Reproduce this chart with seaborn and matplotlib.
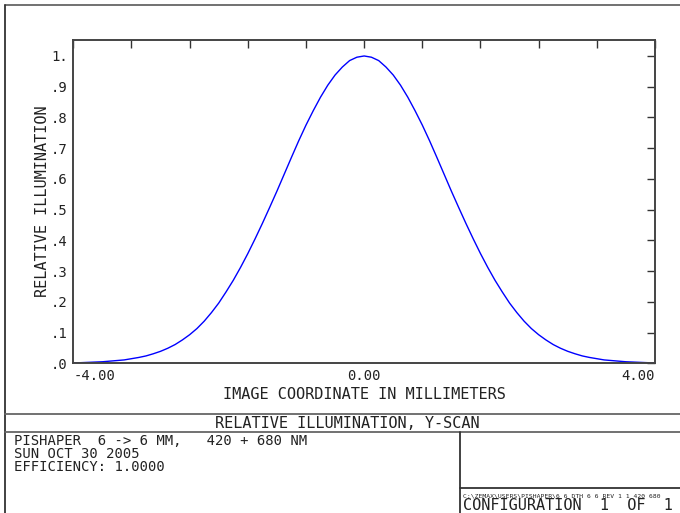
import numpy as np
import pandas as pd
import matplotlib
matplotlib.use('Agg')
import matplotlib.pyplot as plt
import seaborn as sns
from matplotlib.lines import Line2D

# relative illumination, 0.1 mm steps (curve is symmetric)
half_x = [0.0, 0.1, 0.2, 0.3, 0.4, 0.5, 0.6, 0.7, 0.8, 0.9, 1.0,
          1.1, 1.2, 1.3, 1.4, 1.5, 1.6, 1.7, 1.8, 1.9, 2.0,
          2.1, 2.2, 2.3, 2.4, 2.5, 2.6, 2.7, 2.8, 2.9, 3.0,
          3.1, 3.2, 3.3, 3.4, 3.5, 3.6, 3.7, 3.8, 3.9, 4.0]
half_y = [1.000, 0.996, 0.985, 0.964, 0.938, 0.905, 0.866, 0.822, 0.775, 0.724, 0.670,
          0.615, 0.560, 0.507, 0.455, 0.405, 0.357, 0.312, 0.270, 0.232, 0.196,
          0.165, 0.137, 0.113, 0.093, 0.076, 0.061, 0.049, 0.039, 0.031, 0.024,
          0.019, 0.015, 0.011, 0.009, 0.007, 0.005, 0.004, 0.003, 0.002, 0.001]

x_ticks = [-4.0, -3.2, -2.4, -1.6, -0.8, 0.0, 0.8, 1.6, 2.4, 3.2, 4.0]
x_tick_labels = ['-4.00', '', '', '', '', '0.00', '', '', '', '', '4.00']
y_ticks = [0.0, 0.1, 0.2, 0.3, 0.4, 0.5, 0.6, 0.7, 0.8, 0.9, 1.0]
y_tick_labels = ['.0', '.1', '.2', '.3', '.4', '.5', '.6', '.7', '.8', '.9', '1.']

title = 'RELATIVE ILLUMINATION, Y-SCAN'
info_lines = ['PISHAPER  6 -> 6 MM,   420 + 680 NM',
              'SUN OCT 30 2005',
              'EFFICIENCY: 1.0000']
file_path = 'C:\\ZEMAX\\USERS\\PISHAPER\\6 6 DTH 6 6 REV 1 1 420 680'
config = 'CONFIGURATION  1  OF  1'

xs = [-v for v in half_x[::-1]] + half_x[1:]
ys = half_y[::-1] + half_y[1:]
df = pd.DataFrame({'x': xs, 'y': ys})

sns.set_style('white')
plt.rcParams['font.family'] = ['DejaVu Sans Mono']

W, H = 680, 513
fig = plt.figure(figsize=(W / 100, H / 100), dpi=100)
ax = fig.add_axes([73.3 / W, 1 - 363.3 / H, (655 - 73.3) / W, (363.3 - 40) / H])

sns.lineplot(data=df, x='x', y='y', ax=ax, color='#0000ff', linewidth=1.0)

ax.set_xlim(-4, 4)
ax.set_ylim(0, 1.052)
ax.set_xticks(x_ticks)
ax.set_xticklabels(x_tick_labels)
ax.set_yticks(y_ticks)
ax.set_yticklabels(y_tick_labels)
labs = ax.get_xticklabels()
labs[0].set_horizontalalignment('left')
labs[-1].set_horizontalalignment('right')
ax.tick_params(axis='both', direction='in', length=6, width=1.0, color='#333333',
               labelsize=10, labelcolor='#222222', top=True, right=True, pad=4)
for sp in ax.spines.values():
    sp.set_color('#444444')
    sp.set_linewidth(1.4)

ax.set_xlabel('IMAGE COORDINATE IN MILLIMETERS', fontsize=11, color='#222222', labelpad=3)
ax.set_ylabel('RELATIVE ILLUMINATION', fontsize=11, color='#222222', labelpad=1)


def px_line(x0, y0, x1, y1, lw=1.3, c='#666666'):
    fig.add_artist(Line2D([x0 / W, x1 / W], [1 - y0 / H, 1 - y1 / H],
                          transform=fig.transFigure, color=c, linewidth=lw))


# page frame and footer boxes
px_line(5, 5, 680, 5)
px_line(5, 5, 5, 513, c='#333333')
px_line(5, 414, 680, 414)
px_line(5, 431.5, 680, 431.5)
px_line(460, 431.5, 460, 513, c='#333333')
px_line(460, 488, 680, 488, c='#333333')

fig.text(347 / W, 1 - 423 / H, title, ha='center', va='center', fontsize=11, color='#222222')
for i, line in enumerate(info_lines):
    fig.text(14 / W, 1 - (441 + 13 * i) / H, line, ha='left', va='center',
             fontsize=10, color='#222222')
fig.text(463 / W, 1 - 496 / H, file_path, ha='left', va='center', fontsize=4.6,
         color='#222222')
fig.text(463 / W, 1 - 506 / H, config, ha='left', va='center', fontsize=11, color='#222222')

fig.savefig('out.png', dpi=100)
